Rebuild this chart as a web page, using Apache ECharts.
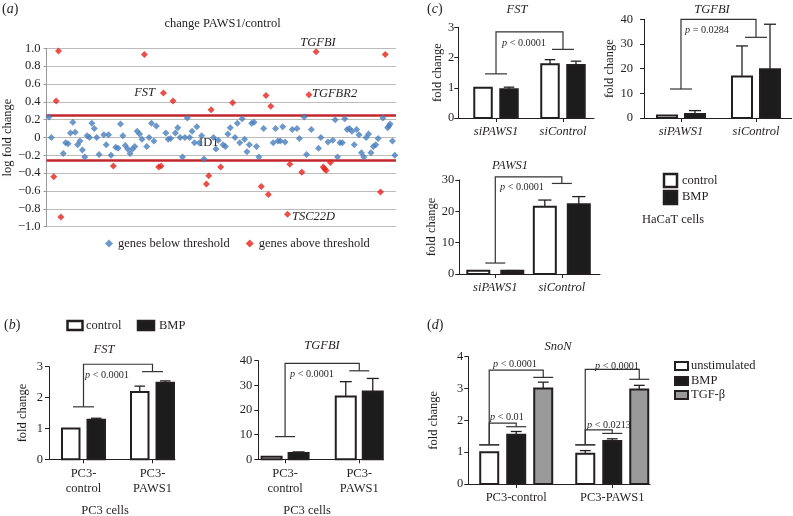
<!DOCTYPE html>
<html><head><meta charset="utf-8">
<script src="https://cdn.jsdelivr.net/npm/echarts@6/dist/echarts.min.js"></script>
<style>html,body{margin:0;padding:0;background:#fff}#c{width:793px;height:516px}</style>
</head><body><div id="c"></div>
<script>
// ---------- DATA ----------
// (a) scatter: gene index vs log fold change
const belowX = [1,2,7,8,9,10,11,12,13,14,15,16,17,18,19,20,21,22,24,25,26,27,29,30,31,32,33,34,35,36,37,38,39,40,42,43,44,45,46,50,51,52,54,55,56,57,58,59,60,61,62,63,64,65,66,70,71,72,74,75,76,77,79,80,81,82,83,84,85,86,87,88,89,91,95,96,97,98,99,100,103,105,106,108,109,111,114,115,118,120,121,122,123,124,125,126,127,128,129,130,131,132,133,134,135,136,137,138,139,141,143,143.5,144,145,146];
const belowY = [0.23,0.00,-0.18,-0.06,-0.07,0.05,0.17,0.06,-0.08,-0.04,-0.14,-0.22,0.02,0.00,0.16,0.10,0.00,-0.19,0.03,-0.08,0.03,-0.20,-0.11,-0.12,0.15,0.02,-0.09,-0.13,-0.18,-0.13,-0.10,0.07,0.04,-0.02,-0.10,0.00,0.16,-0.04,0.13,0.05,-0.02,-0.01,0.05,0.11,0.00,-0.22,0.00,0.22,0.00,0.07,-0.06,0.12,-0.06,0.02,-0.24,0.00,-0.13,-0.03,-0.08,-0.10,0.04,0.11,0.00,0.16,-0.06,0.21,-0.02,-0.16,-0.08,0.16,0.17,-0.10,-0.22,0.10,-0.06,0.10,-0.04,-0.04,0.12,-0.05,0.09,0.10,-0.01,0.23,-0.19,0.09,-0.12,0.00,-0.05,-0.03,0.20,-0.22,-0.06,-0.06,0.21,0.09,0.10,0.07,-0.08,0.09,0.03,-0.17,-0.22,0.00,0.04,-0.17,-0.10,-0.08,-0.01,0.22,0.11,0.13,0.15,-0.04,-0.20];
const aboveX = [3,4,5,6,28,41,47,48,49,53,67,68,69,73,78,90,92,93,94,101,102,107,110,113,116,116.5,117.2,119,140,142];
const aboveY = [-0.44,0.41,0.97,-0.89,-0.32,0.93,-0.33,-0.32,0.50,0.41,-0.52,-0.43,0.31,-0.33,0.39,-0.55,0.47,-0.64,0.35,-0.86,-0.30,-0.39,0.48,0.96,-0.33,-0.35,-0.37,-0.28,-0.61,0.93];
const thresholds = [0.25, -0.25];

// (b) PC3 cells
const bGroups = ['PC3-\ncontrol', 'PC3-\nPAWS1'];
const bFstControl = [1.00, 2.18], bFstControlErr = [1.00, 2.37];
const bFstBMP = [1.28, 2.48], bFstBMPErr = [1.33, 2.54];
const bTgfControl = [1.0, 25.5], bTgfControlErr = [1.0, 31.5];
const bTgfBMP = [2.6, 27.5], bTgfBMPErr = [3.0, 32.8];
// brackets: [group1, bar1(-1=centre), y1, group2, bar2, y2, top]
const bFstBracket = [[1,-1,1.70,2,-1,2.84,3.08]];
const bTgfBracket = [[1,-1,9.2,2,-1,35.9,38.9]];

// (c) HaCaT cells
const cGroups = ['siPAWS1', 'siControl'];
const cFstControl = [1.00, 1.78], cFstControlErr = [1.00, 1.93];
const cFstBMP = [0.95, 1.75], cFstBMPErr = [1.02, 1.88];
const cTgfControl = [1.0, 16.8], cTgfControlErr = [1.0, 29.2];
const cTgfBMP = [1.6, 19.8], cTgfBMPErr = [3.0, 38.0];
const cPawsControl = [1.0, 21.5], cPawsControlErr = [1.0, 23.6];
const cPawsBMP = [1.0, 22.3], cPawsBMPErr = [1.1, 24.7];
const cFstBracket = [[1,-1,1.46,2,-1,2.27,2.85]];
const cTgfBracket = [[1,-1,11.75,2,-1,32.7,40.0]];
const cPawsBracket = [[1,-1,3.5,2,-1,28.9,31.0]];

// (d) SnoN
const dGroups = ['PC3-control', 'PC3-PAWS1'];
const dUnstim = [1.00, 0.95], dUnstimErr = [1.00, 1.05];
const dBMP = [1.55, 1.35], dBMPErr = [1.65, 1.42];
const dTGF = [3.00, 2.97], dTGFErr = [3.20, 3.10];
const dBracket = [[1,0,1.23,1,2,3.35,3.58],[1,0,1.23,1,1,1.80,1.91],[2,0,1.23,2,2,3.29,3.60],[2,0,1.23,2,1,1.59,1.70]];

// ---------- STYLE / LAYOUT ----------
const FONT = '"Liberation Serif","Times New Roman",serif';
const INK = '#231f20';
const panels = [
  {grid:{left:49,top:366.7,width:126,height:92.6}, xMin:0.5, xMax:2.326, yMax:3, yInt:1, bw:17.5, offs:[-12.75,12.75], labels:bGroups, italic:false, yName:'fold change', nameGap:20, hw:10.5, lh:15, margin:6},
  {grid:{left:258.3,top:360.7,width:125,height:98.6}, xMin:0.639, xMax:2.324, yMax:40, yInt:10, bw:20, offs:[-13.5,13.5], labels:bGroups, italic:false, yName:'', nameGap:20, hw:10, lh:15, margin:6},
  {grid:{left:458.3,top:27.3,width:135.7,height:90.7}, xMin:0.437, xMax:2.463, yMax:3, yInt:1, bw:17.5, offs:[-13,13], labels:cGroups, italic:true, yName:'fold change', nameGap:13, hw:11, margin:4},
  {grid:{left:644,top:19.3,width:147.7,height:98.7}, xMin:0.507, xMax:2.476, yMax:40, yInt:10, bw:20, offs:[-14,14], labels:cGroups, italic:true, yName:'fold change', nameGap:22, hw:11, margin:11},
  {grid:{left:459.3,top:180,width:140.7,height:94}, xMin:0.459, xMax:2.574, yMax:30, yInt:10, bw:22, offs:[-17,17], labels:cGroups, italic:true, yName:'fold change', nameGap:19, hw:10, margin:5},
  {grid:{left:468.3,top:356.7,width:181.7,height:127.3}, xMin:0.501, xMax:2.393, yMax:4, yInt:1, bw:18, offs:[-27,0,27], labels:dGroups, italic:false, yName:'fold change', nameGap:28, hw:10, margin:5}
];

const grids = [{left:41.7, top:48.3, width:354.3, height:178.4, containLabel:false}];
const xAxes = [{gridIndex:0, type:'value', min:0, max:146.5, show:false}];
const yAxes = [{gridIndex:0, type:'value', min:-1, max:1, interval:0.2,
  name:'log fold change', nameLocation:'middle', nameGap:30,
  nameTextStyle:{fontFamily:FONT, fontSize:12.5, color:INK},
  axisLine:{show:true, lineStyle:{color:'#9a9a9a'}},
  axisTick:{show:true, length:3, lineStyle:{color:'#9a9a9a'}},
  splitLine:{show:true, lineStyle:{color:'#bcbcbc', width:1}},
  axisLabel:{fontFamily:FONT, fontSize:12.5, color:INK, margin:6,
    formatter:v => Math.abs(v) < 1e-9 ? '0' : (v < 0 ? '\u2212' : '') + Math.abs(v).toFixed(1)}}];

panels.forEach((P, i) => {
  grids.push(Object.assign({containLabel:false}, P.grid));
  xAxes.push({gridIndex:i+1, type:'value', min:P.xMin, max:P.xMax,
    axisLine:{show:true, lineStyle:{color:INK, width:1}},
    axisTick:{show:true, customValues:[1,2], length:4, lineStyle:{color:INK}},
    splitLine:{show:false},
    axisLabel:{show:true, customValues:[1,2], fontFamily:FONT, fontSize:12.5, color:INK, margin:7,
      fontStyle:P.italic ? 'italic' : 'normal', lineHeight:P.lh || 14,
      formatter:v => P.labels[Math.round(v) - 1]}});
  yAxes.push({gridIndex:i+1, type:'value', min:0, max:P.yMax, interval:P.yInt,
    name:P.yName, nameLocation:'middle', nameGap:P.nameGap,
    nameTextStyle:{fontFamily:FONT, fontSize:12.5, color:INK},
    axisLine:{show:true, lineStyle:{color:INK, width:1}},
    axisTick:{show:true, length:4, lineStyle:{color:INK}},
    splitLine:{show:false},
    axisLabel:{fontFamily:FONT, fontSize:12.5, color:INK, margin:P.margin}});
});

function barSeries(pi, si, name, vals, errs, fill) {
  const P = panels[pi];
  return {type:'custom', name, xAxisIndex:pi+1, yAxisIndex:pi+1, silent:true,
    data: vals.map((v, i) => [i + 1, v, errs[i]]),
    renderItem:(params, api) => {
      const g = api.value(0), v = api.value(1), e = api.value(2);
      const base = api.coord([g, 0]), top = api.coord([g, v]), et = api.coord([g, e]);
      const cx = base[0] + P.offs[si];
      const cap = P.bw * 0.6;
      const ch = [];
      if (e > v) {
        ch.push({type:'line', shape:{x1:cx, y1:top[1], x2:cx, y2:et[1]}, style:{stroke:INK, lineWidth:1.3}});
        ch.push({type:'line', shape:{x1:cx - cap/2, y1:et[1], x2:cx + cap/2, y2:et[1]}, style:{stroke:INK, lineWidth:1.3}});
      }
      ch.push({type:'rect', shape:{x:cx - P.bw/2, y:top[1], width:P.bw, height:base[1] - top[1]},
        style:{fill, stroke:INK, lineWidth:2}});
      return {type:'group', children:ch};
    }};
}
function bracketSeries(pi, list) {
  const P = panels[pi];
  return {type:'custom', xAxisIndex:pi+1, yAxisIndex:pi+1, silent:true, data:list,
    renderItem:(params, api) => {
      const off = s => s < 0 ? 0 : P.offs[s];
      const a = api.coord([api.value(0), api.value(2)]);
      const b = api.coord([api.value(3), api.value(5)]);
      const t = api.coord([api.value(0), api.value(6)]);
      const x1 = a[0] + off(api.value(1)), x2 = b[0] + off(api.value(4));
      const st = {stroke:'#333', lineWidth:1.2, fill:null};
      return {type:'group', children:[
        {type:'polyline', shape:{points:[[x1,a[1]],[x1,t[1]],[x2,t[1]],[x2,b[1]]]}, style:st},
        {type:'line', shape:{x1:x1 - P.hw, y1:a[1], x2:x1 + P.hw, y2:a[1]}, style:st},
        {type:'line', shape:{x1:x2 - P.hw, y1:b[1], x2:x2 + P.hw, y2:b[1]}, style:st}
      ]};
    }};
}

const BLUE = '#4a7ebb', RED = '#e3241b', WHITE = '#ffffff', BLACK = '#1c1c1c', GRAY = '#9a9a9a';
const series = [
  {type:'scatter', name:'genes below threshold', xAxisIndex:0, yAxisIndex:0, symbol:'diamond', symbolSize:7,
    itemStyle:{color:BLUE}, data:belowX.map((x, i) => [x, belowY[i]]), z:3,
    markLine:{silent:true, symbol:['none','none'], label:{show:false}, z:2,
      lineStyle:{color:'#c1272d', width:2.5, type:'solid'},
      data:thresholds.map(v => ({yAxis:v}))}},
  {type:'scatter', name:'genes above threshold', xAxisIndex:0, yAxisIndex:0, symbol:'diamond', symbolSize:7,
    itemStyle:{color:RED}, data:aboveX.map((x, i) => [x, aboveY[i]]), z:3},
  barSeries(0, 0, 'control', bFstControl, bFstControlErr, WHITE),
  barSeries(0, 1, 'BMP', bFstBMP, bFstBMPErr, BLACK),
  bracketSeries(0, bFstBracket),
  barSeries(1, 0, 'control', bTgfControl, bTgfControlErr, WHITE),
  barSeries(1, 1, 'BMP', bTgfBMP, bTgfBMPErr, BLACK),
  bracketSeries(1, bTgfBracket),
  barSeries(2, 0, 'control', cFstControl, cFstControlErr, WHITE),
  barSeries(2, 1, 'BMP', cFstBMP, cFstBMPErr, BLACK),
  bracketSeries(2, cFstBracket),
  barSeries(3, 0, 'control', cTgfControl, cTgfControlErr, WHITE),
  barSeries(3, 1, 'BMP', cTgfBMP, cTgfBMPErr, BLACK),
  bracketSeries(3, cTgfBracket),
  barSeries(4, 0, 'control', cPawsControl, cPawsControlErr, WHITE),
  barSeries(4, 1, 'BMP', cPawsBMP, cPawsBMPErr, BLACK),
  bracketSeries(4, cPawsBracket),
  barSeries(5, 0, 'unstimulated', dUnstim, dUnstimErr, WHITE),
  barSeries(5, 1, 'BMP', dBMP, dBMPErr, BLACK),
  barSeries(5, 2, 'TGF-β', dTGF, dTGFErr, GRAY),
  bracketSeries(5, dBracket)
];

// ---------- TEXT / LEGEND GRAPHICS ----------
function txt(x, y, text, o) {
  o = o || {};
  return {type:'text', x, y, silent:true, style:{text, fontFamily:FONT, fontSize:o.size || 12.5,
    fontStyle:o.italic ? 'italic' : 'normal', fill:INK, align:o.align || 'left', verticalAlign:'middle',
    rich:{i:{fontFamily:FONT, fontSize:o.size || 12.5, fontStyle:'italic', fill:INK}}}};
}
function box(x, y, w, h, fill, lw) {
  return {type:'rect', silent:true, shape:{x, y, width:w, height:h}, style:{fill, stroke:INK, lineWidth:lw || 2.5}};
}
const P_SIZE = 10.2;
const graphics = [
  txt(2, 9, '({i|a})', {size:14}), txt(4, 325, '({i|b})', {size:14}),
  txt(427, 9, '({i|c})', {size:14}), txt(427, 325, '({i|d})', {size:14}),
  txt(222.5, 24, 'change PAWS1/control', {align:'center'}),
  txt(318, 43, 'TGFBI', {italic:true, align:'center'}),
  txt(155, 93, 'FST', {italic:true, align:'right'}),
  txt(312, 94, 'TGFBR2', {italic:true}),
  txt(292, 217, 'TSC22D', {italic:true}),
  txt(199, 143, 'ID1'),
  // (b)
  box(67.5, 321, 15, 9, WHITE), txt(86, 325.5, 'control'),
  box(138, 321, 16, 9, BLACK), txt(159, 325.5, 'BMP'),
  txt(104, 350, 'FST', {italic:true, align:'center'}),
  txt(322, 346, 'TGFBI', {italic:true, align:'center'}),
  txt(85, 375, '{i|p} < 0.0001', {size:P_SIZE}),
  txt(290, 374, '{i|p} < 0.0001', {size:P_SIZE}),
  txt(105, 511, 'PC3 cells', {align:'center'}),
  txt(307, 511, 'PC3 cells', {align:'center'}),
  // (c)
  txt(517, 10, 'FST', {italic:true, align:'center'}),
  txt(712, 10, 'TGFBI', {italic:true, align:'center'}),
  txt(510, 166, 'PAWS1', {italic:true, align:'center'}),
  txt(502, 43, '{i|p} < 0.0001', {size:P_SIZE}),
  txt(685, 30, '{i|p} = 0.0284', {size:P_SIZE}),
  txt(500, 187, '{i|p} < 0.0001', {size:P_SIZE}),
  box(664, 174, 13, 13, WHITE), txt(682, 181, 'control'),
  box(664, 191, 13, 13, BLACK), txt(682, 197, 'BMP'),
  txt(642, 220, 'HaCaT cells'),
  // (d)
  txt(558, 347, 'SnoN', {italic:true, align:'center'}),
  txt(493, 364, '{i|p} < 0.0001', {size:P_SIZE}),
  txt(490, 417, '{i|p} < 0.01', {size:P_SIZE}),
  txt(595, 366, '{i|p} < 0.0001', {size:P_SIZE}),
  txt(587, 425, '{i|p} < 0.0213', {size:P_SIZE}),
  box(675, 362, 13, 8, WHITE, 2), txt(691, 366, 'unstimulated'),
  box(675, 377, 13, 8, BLACK, 2), txt(691, 381, 'BMP'),
  box(675, 391, 13, 8, GRAY, 2), txt(691, 395, 'TGF-β')
];

const chart = echarts.init(document.getElementById('c'), null, {renderer:'canvas'});
chart.setOption({
  animation:false,
  backgroundColor:'#ffffff',
  textStyle:{fontFamily:FONT},
  grid:grids, xAxis:xAxes, yAxis:yAxes, series,
  legend:{data:['genes below threshold','genes above threshold'], left:100, top:232,
    icon:'diamond', itemWidth:8, itemHeight:8, itemGap:16, selectedMode:false,
    textStyle:{fontFamily:FONT, fontSize:12.5, color:INK}},
  graphic:graphics
});
</script></body></html>
